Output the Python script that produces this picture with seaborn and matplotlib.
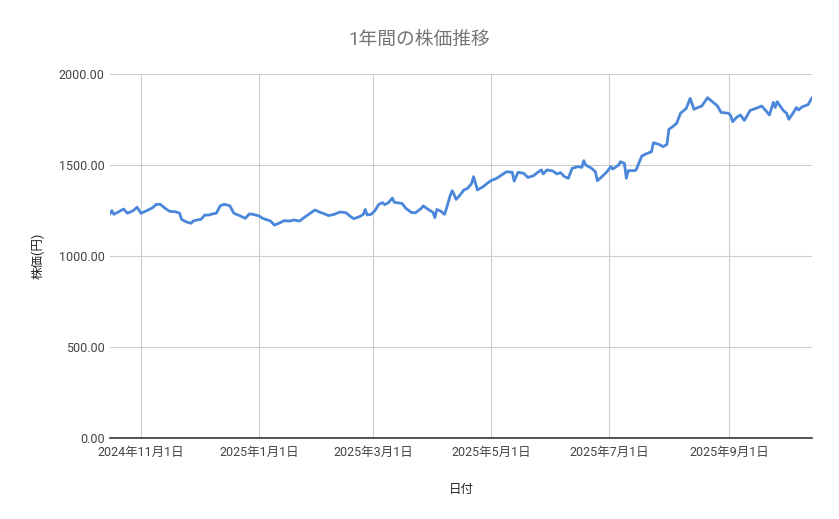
import pandas as pd
import matplotlib.pyplot as plt
import seaborn as sns

# --- data ---
dates = [
    "2024-10-16", "2024-10-17", "2024-10-18", "2024-10-20", "2024-10-23", "2024-10-25",
    "2024-10-28", "2024-10-30", "2024-11-01", "2024-11-04", "2024-11-07", "2024-11-09",
    "2024-11-11", "2024-11-14", "2024-11-16", "2024-11-19", "2024-11-21", "2024-11-22",
    "2024-11-25", "2024-11-27", "2024-11-28", "2024-11-30", "2024-12-02", "2024-12-04",
    "2024-12-06", "2024-12-08", "2024-12-10", "2024-12-12", "2024-12-14", "2024-12-17",
    "2024-12-19", "2024-12-22", "2024-12-25", "2024-12-27", "2024-12-29", "2025-01-01",
    "2025-01-03", "2025-01-07", "2025-01-09", "2025-01-12", "2025-01-14", "2025-01-17",
    "2025-01-19", "2025-01-22", "2025-01-25", "2025-01-30", "2025-02-01", "2025-02-04",
    "2025-02-06", "2025-02-09", "2025-02-12", "2025-02-15", "2025-02-17", "2025-02-19",
    "2025-02-22", "2025-02-24", "2025-02-25", "2025-02-26", "2025-02-28", "2025-03-02",
    "2025-03-04", "2025-03-06", "2025-03-07", "2025-03-09", "2025-03-11", "2025-03-12",
    "2025-03-16", "2025-03-18", "2025-03-21", "2025-03-23", "2025-03-26", "2025-03-27",
    "2025-03-30", "2025-04-01", "2025-04-02", "2025-04-03", "2025-04-05", "2025-04-07",
    "2025-04-08", "2025-04-10", "2025-04-11", "2025-04-13", "2025-04-15", "2025-04-17",
    "2025-04-19", "2025-04-21", "2025-04-22", "2025-04-24", "2025-04-27", "2025-04-29",
    "2025-05-01", "2025-05-04", "2025-05-07", "2025-05-09", "2025-05-12", "2025-05-13",
    "2025-05-15", "2025-05-18", "2025-05-20", "2025-05-23", "2025-05-25", "2025-05-27",
    "2025-05-28", "2025-05-30", "2025-06-02", "2025-06-04", "2025-06-06", "2025-06-08",
    "2025-06-10", "2025-06-12", "2025-06-15", "2025-06-17", "2025-06-18", "2025-06-19",
    "2025-06-22", "2025-06-24", "2025-06-25", "2025-06-27", "2025-06-30", "2025-07-02",
    "2025-07-03", "2025-07-06", "2025-07-07", "2025-07-09", "2025-07-10", "2025-07-11",
    "2025-07-14", "2025-07-15", "2025-07-18", "2025-07-20", "2025-07-23", "2025-07-24",
    "2025-07-27", "2025-07-29", "2025-07-31", "2025-08-01", "2025-08-03", "2025-08-05",
    "2025-08-07", "2025-08-10", "2025-08-12", "2025-08-14", "2025-08-16", "2025-08-18",
    "2025-08-21", "2025-08-23", "2025-08-26", "2025-08-28", "2025-09-01", "2025-09-02",
    "2025-09-03", "2025-09-05", "2025-09-07", "2025-09-09", "2025-09-12", "2025-09-15",
    "2025-09-18", "2025-09-20", "2025-09-22", "2025-09-24", "2025-09-25", "2025-09-26",
    "2025-09-29", "2025-10-01", "2025-10-02", "2025-10-04", "2025-10-06", "2025-10-07",
    "2025-10-09", "2025-10-12", "2025-10-14",
]
prices = [
    1231, 1249, 1229, 1240, 1258, 1235,
    1249, 1268, 1235, 1249, 1265, 1284,
    1284, 1258, 1245, 1243, 1235, 1201,
    1185, 1180, 1192, 1198, 1201, 1225,
    1225, 1231, 1235, 1276, 1284, 1276,
    1235, 1222, 1207, 1231, 1229, 1220,
    1207, 1192, 1170, 1183, 1194, 1192,
    1198, 1192, 1216, 1253, 1243, 1231,
    1222, 1229, 1242, 1238, 1220, 1205,
    1216, 1229, 1256, 1225, 1229, 1249,
    1284, 1293, 1282, 1293, 1319, 1295,
    1289, 1262, 1238, 1238, 1262, 1275,
    1253, 1240, 1211, 1256, 1247, 1229,
    1262, 1335, 1359, 1311, 1335, 1363,
    1372, 1399, 1436, 1363, 1381, 1399,
    1414, 1427, 1449, 1463, 1460, 1412,
    1460, 1454, 1432, 1441, 1458, 1473,
    1451, 1473, 1467, 1451, 1458, 1436,
    1427, 1482, 1491, 1487, 1524, 1500,
    1482, 1463, 1414, 1432, 1463, 1491,
    1478, 1500, 1518, 1509, 1427, 1469,
    1469, 1472, 1549, 1560, 1573, 1622,
    1613, 1601, 1613, 1696, 1711, 1729,
    1784, 1811, 1866, 1806, 1816, 1824,
    1870, 1852, 1826, 1789, 1784, 1770,
    1738, 1762, 1775, 1745, 1800, 1811,
    1824, 1800, 1775, 1844, 1816, 1848,
    1802, 1782, 1751, 1782, 1816, 1802,
    1820, 1832, 1870,
]
tick_dates = ["2024-11-01", "2025-01-01", "2025-03-01", "2025-05-01", "2025-07-01", "2025-09-01"]
tick_labels = ["2024年11月1日", "2025年1月1日", "2025年3月1日", "2025年5月1日", "2025年7月1日", "2025年9月1日"]
y_ticks = [0, 500, 1000, 1500, 2000]

sns.set_theme(style="white")
plt.rcParams['font.family'] = ['Roboto', 'Noto Sans CJK JP', 'DejaVu Sans']

df = pd.DataFrame({"日付": pd.to_datetime(dates), "株価": prices})

fig, ax = plt.subplots(figsize=(8.39, 5.19), dpi=100)
fig.subplots_adjust(left=0.1311, right=0.9678, top=0.8574, bottom=0.1561)

sns.lineplot(data=df, x="日付", y="株価", ax=ax, color="#4a86d9", linewidth=2)

ax.set_xlim(df["日付"].min(), df["日付"].max())
ax.set_ylim(0, 2000)
ax.set_yticks(y_ticks)
ax.set_yticklabels([f"{v:.2f}" for v in y_ticks])
ax.set_xticks(pd.to_datetime(tick_dates))
ax.set_xticklabels(tick_labels)

ax.grid(True, color="#cccccc", linewidth=0.8)
ax.set_axisbelow(True)
for side in ["top", "right", "left"]:
    ax.spines[side].set_visible(False)
ax.spines["bottom"].set_color("#333333")
ax.spines["bottom"].set_linewidth(1.2)
ax.tick_params(axis="both", length=0, labelsize=9, labelcolor="#444444")
ax.tick_params(axis="x", pad=6)
ax.tick_params(axis="y", pad=4)

# title is centred on the whole figure, not on the axes
fig.text(0.5, 1 - 40 / 519, "1年間の株価推移", fontsize=13.5, color="#757575",
         ha="center", va="center")
ax.set_xlabel("日付", fontsize=9, color="#222222", labelpad=17)
ax.set_ylabel("株価(円)", fontsize=9, color="#222222", labelpad=10)

plt.savefig("out.png", dpi=100)
plt.close()
